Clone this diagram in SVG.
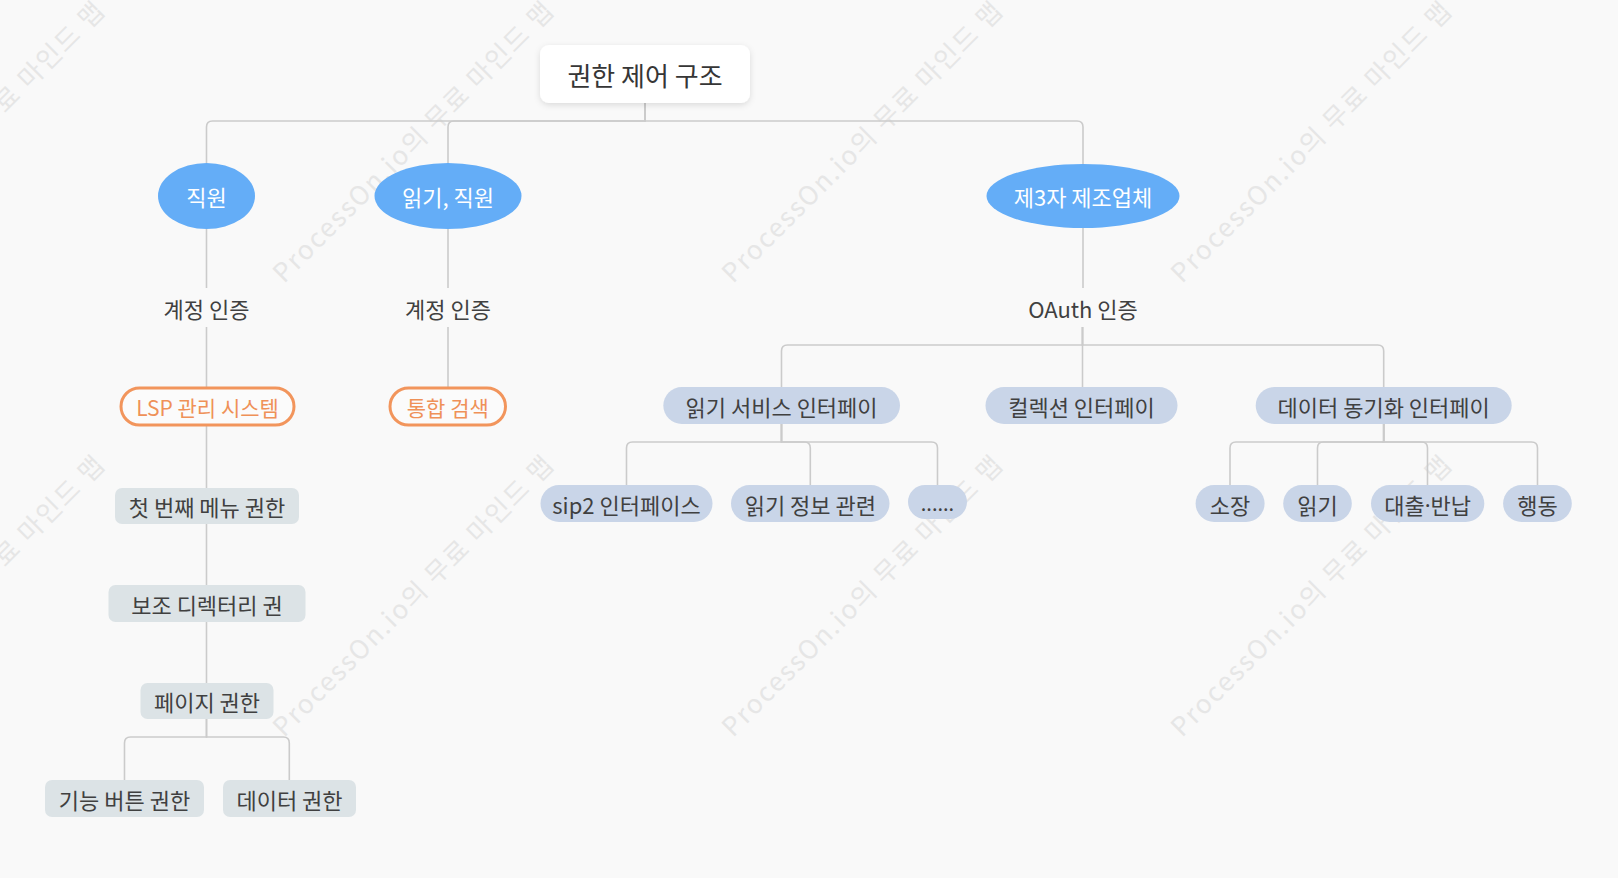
<svg xmlns="http://www.w3.org/2000/svg" width="1618" height="878" viewBox="0 0 1618 878">
<defs>
<style>
text{font-family:"Noto Sans CJK KR","Noto Sans",sans-serif;font-size:22px;text-anchor:middle;dominant-baseline:central;fill:#404040}
.wm{font-size:26px;fill:#e6e6e6;text-anchor:start;dominant-baseline:alphabetic}
.con path{fill:none;stroke:#cbcbcb;stroke-width:1.6}
.blue{fill:#64adf7}
.wt{fill:#ffffff}
.org{fill:#fbfbfb;stroke:#f2955c;stroke-width:3}
.ot{fill:#ef9158}
.gray{fill:#dce3e6}
.bl{fill:#c9d5e8}
.root{fill:#ffffff}
.dot{font-family:"Noto Sans",sans-serif}
</style>
<filter id="sh" x="-20%" y="-30%" width="140%" height="170%">
<feDropShadow dx="0" dy="2" stdDeviation="3" flood-color="#000" flood-opacity="0.12"/>
</filter>
</defs>
<rect width="1618" height="878" fill="#f9f9f9"/>
<g id="watermarks">
<text class="wm" transform="translate(-165,284) rotate(-45)" textLength="383" lengthAdjust="spacing">ProcessOn.io의 무료 마인드 맵</text>
<text class="wm" transform="translate(284,284) rotate(-45)" textLength="383" lengthAdjust="spacing">ProcessOn.io의 무료 마인드 맵</text>
<text class="wm" transform="translate(733,284) rotate(-45)" textLength="383" lengthAdjust="spacing">ProcessOn.io의 무료 마인드 맵</text>
<text class="wm" transform="translate(1182,284) rotate(-45)" textLength="383" lengthAdjust="spacing">ProcessOn.io의 무료 마인드 맵</text>
<text class="wm" transform="translate(-165,738) rotate(-45)" textLength="383" lengthAdjust="spacing">ProcessOn.io의 무료 마인드 맵</text>
<text class="wm" transform="translate(284,738) rotate(-45)" textLength="383" lengthAdjust="spacing">ProcessOn.io의 무료 마인드 맵</text>
<text class="wm" transform="translate(733,738) rotate(-45)" textLength="383" lengthAdjust="spacing">ProcessOn.io의 무료 마인드 맵</text>
<text class="wm" transform="translate(1182,738) rotate(-45)" textLength="383" lengthAdjust="spacing">ProcessOn.io의 무료 마인드 맵</text>
</g>
<g id="connectors" class="con">
<path d="M645 103 V121 H212.5 Q206.5 121 206.5 127 V163"/>
<path d="M645 103 V121 H454 Q448 121 448 127 V163"/>
<path d="M645 103 V121 H1077 Q1083 121 1083 127 V164"/>
<path d="M206.5 229 V288 M206.5 327 V388"/>
<path d="M448 229 V288 M448 327 V388"/>
<path d="M1083 228 V288"/>
<path d="M1082.5 327 V345 H787.5 Q781.5 345 781.5 351 V387"/>
<path d="M1082.5 327 V387"/>
<path d="M1082.5 327 V345 H1377.7 Q1383.7 345 1383.7 351 V387"/>
<path d="M781.5 424 V442 H632.5 Q626.5 442 626.5 448 V485"/>
<path d="M781.5 424 V442 H804.3 Q810.3 442 810.3 448 V485"/>
<path d="M781.5 424 V442 H931.5 Q937.5 442 937.5 448 V485"/>
<path d="M1383.7 424 V442 H1236 Q1230 442 1230 448 V485"/>
<path d="M1383.7 424 V442 H1323.5 Q1317.5 442 1317.5 448 V485"/>
<path d="M1383.7 424 V442 H1421.5 Q1427.5 442 1427.5 448 V485"/>
<path d="M1383.7 424 V442 H1531.5 Q1537.5 442 1537.5 448 V485"/>
<path d="M206.5 425 V488 M206.5 524 V585 M206.5 622 V683"/>
<path d="M206.5 719 V737 H130.5 Q124.5 737 124.5 743 V780"/>
<path d="M206.5 719 V737 H283.3 Q289.3 737 289.3 743 V780"/>
</g>
<g id="root"><rect class="root" x="540" y="45" width="210" height="58" rx="9" filter="url(#sh)"/><text x="645" y="74" style="font-size:26px;fill:#363636">권한 제어 구조</text></g>
<g id="n-staff"><ellipse class="blue" cx="206.5" cy="196" rx="48.5" ry="33"/><text class="wt" x="206.5" y="196">직원</text></g>
<g id="n-read-staff"><ellipse class="blue" cx="448" cy="196" rx="73.5" ry="33"/><text class="wt" x="448" y="196">읽기, 직원</text></g>
<g id="n-third"><ellipse class="blue" cx="1083" cy="196" rx="96.5" ry="32"/><text class="wt" x="1083" y="196">제3자 제조업체</text></g>
<g id="n-auth1"><text x="206.5" y="308">계정 인증</text></g>
<g id="n-auth2"><text x="448" y="308">계정 인증</text></g>
<g id="n-oauth"><text x="1083" y="308">OAuth 인증</text></g>
<g id="n-lsp"><rect class="org" x="121" y="388" width="173" height="37" rx="18.5"/><text class="ot" x="207.5" y="406.5" style="font-size:21px">LSP 관리 시스템</text></g>
<g id="n-search"><rect class="org" x="390" y="388" width="115.5" height="37" rx="18.5"/><text class="ot" x="447.8" y="406.5" style="font-size:21px">통합 검색</text></g>
<g id="n-menu1"><rect class="gray" x="115" y="488" width="184" height="36" rx="7"/><text x="207" y="506">첫 번째 메뉴 권한</text></g>
<g id="n-subdir"><rect class="gray" x="108.5" y="585" width="197" height="37" rx="7"/><text x="207" y="603.5">보조 디렉터리 권</text></g>
<g id="n-page"><rect class="gray" x="140.5" y="683" width="133" height="36" rx="7"/><text x="207" y="701">페이지 권한</text></g>
<g id="n-btn"><rect class="gray" x="45" y="780" width="159" height="37" rx="7"/><text x="124.5" y="798.5">기능 버튼 권한</text></g>
<g id="n-data"><rect class="gray" x="223" y="780" width="133" height="37" rx="7"/><text x="289.5" y="798.5">데이터 권한</text></g>
<g id="n-readsvc"><rect class="bl" x="663.3" y="387" width="236.7" height="37" rx="18.5"/><text x="781.6" y="405.5">읽기 서비스 인터페이</text></g>
<g id="n-collect"><rect class="bl" x="985.5" y="387" width="192" height="37" rx="18.5"/><text x="1081.5" y="405.5">컬렉션 인터페이</text></g>
<g id="n-sync"><rect class="bl" x="1255.7" y="387" width="256" height="37" rx="18.5"/><text x="1383.7" y="405.5">데이터 동기화 인터페이</text></g>
<g id="n-sip2"><rect class="bl" x="540.5" y="485" width="172" height="37" rx="18.5"/><text x="626.5" y="503.5">sip2 인터페이스</text></g>
<g id="n-readinfo"><rect class="bl" x="731" y="485" width="158.5" height="37" rx="18.5"/><text x="810.3" y="503.5">읽기 정보 관련</text></g>
<g id="n-more"><rect class="bl" x="908" y="485" width="59" height="34" rx="17"/><text x="937.5" y="502" style="font-size:20px">......</text></g>
<g id="n-collection"><rect class="bl" x="1195.6" y="485" width="69" height="37" rx="18.5"/><text x="1230.1" y="503.5">소장</text></g>
<g id="n-reading"><rect class="bl" x="1283.2" y="485" width="68.6" height="37" rx="18.5"/><text x="1317.5" y="503.5">읽기</text></g>
<g id="n-loan"><rect class="bl" x="1371" y="485" width="113.3" height="37" rx="18.5"/><text x="1427.6" y="503.5">대출<tspan class="dot">·</tspan>반납</text></g>
<g id="n-act"><rect class="bl" x="1503.1" y="485" width="68.7" height="37" rx="18.5"/><text x="1537.5" y="503.5">행동</text></g>
</svg>
